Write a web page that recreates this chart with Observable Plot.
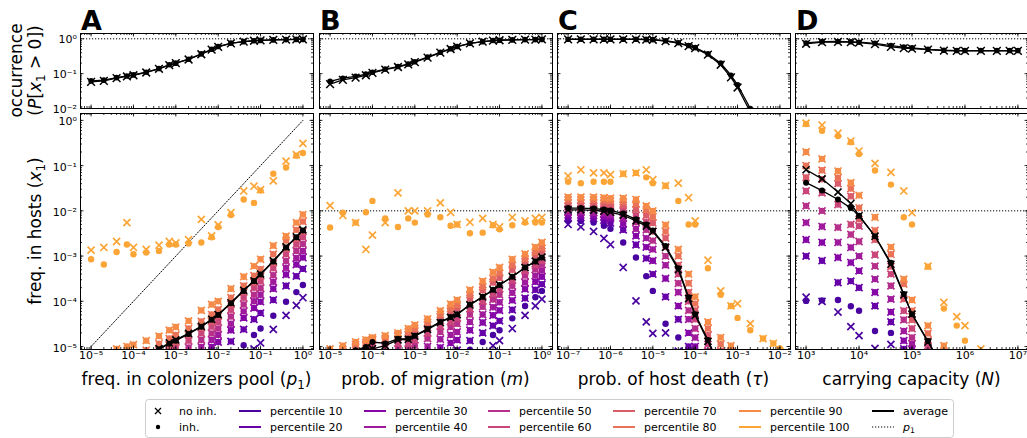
<!DOCTYPE html>
<html>
<head>
<meta charset="utf-8">
<script src="https://cdn.jsdelivr.net/npm/d3@7"></script>
<script src="https://cdn.jsdelivr.net/npm/@observablehq/plot@0.6"></script>
<style>
  html,body{margin:0;padding:0;background:#fff;}
  #fig{position:relative;width:1027px;height:438px;overflow:hidden;font-family:"DejaVu Sans",sans-serif;}
  .pl{position:absolute;}
  .pl svg{overflow:visible;max-width:none !important;}
  #over{position:absolute;left:0;top:0;pointer-events:none;}
</style>
</head>
<body>
<div id="fig"></div>
<script>
const _ = null;

// ---------- x values ----------
const pool      = [1e-5,2e-5,4e-5,7e-5,1e-4,2e-4,4e-4,7e-4,1e-3,2e-3,4e-3,7e-3,1e-2,2e-2,4e-2,7e-2,0.1,0.2,0.4,0.7,1];
const migration = [1e-5,2e-5,4e-5,7e-5,1e-4,2e-4,4e-4,7e-4,1e-3,2e-3,4e-3,7e-3,1e-2,2e-2,4e-2,7e-2,0.1,0.2,0.4,0.7,1];
const death     = [1e-7,2e-7,4e-7,7e-7,1e-6,2e-6,4e-6,7e-6,1e-5,2e-5,4e-5,7e-5,1e-4,2e-4,4e-4,7e-4,1e-3,2e-3,4e-3,7e-3,1e-2];
const capacity  = [1e3,2e3,4e3,7e3,1e4,2e4,4e4,7e4,1e5,2e5,4e5,7e5,1e6,2e6,4e6,7e6,1e7];
const p1Default = 0.01;
const percentiles = [10,20,30,40,50,60,70,80,90,100];

// ---------- tick values ----------
const xTicksA = [1e-5,1e-4,1e-3,1e-2,1e-1,1];
const xTicksB = [1e-5,1e-4,1e-3,1e-2,1e-1,1];
const xTicksC = [1e-7,1e-6,1e-5,1e-4,1e-3,1e-2];
const xTicksD = [1e3,1e4,1e5,1e6,1e7];
const yTicksOcc = [1e-2,1e-1,1];
const yTicksFreq = [1e-5,1e-4,1e-3,1e-2,1e-1,1];

// ---------- panel A: freq. in colonizers pool ----------
const occA_inh   = [0.062,0.065,0.077,0.086,0.092,0.11,0.14,0.18,0.2,0.26,0.37,0.5,0.6,0.75,0.83,0.88,0.9,0.93,0.95,0.96,0.96];
const occA_noinh = [0.058,0.062,0.074,0.083,0.09,0.108,0.138,0.175,0.2,0.255,0.36,0.49,0.59,0.74,0.83,0.88,0.9,0.93,0.95,0.96,0.96];
const avgA_inh   = [2.0e-6,2.5e-6,3.2e-6,4.0e-6,4.5e-6,6.3e-6,8.7e-6,1.15e-5,1.35e-5,1.9e-5,2.75e-5,3.9e-5,5.0e-5,9.1e-5,1.7e-4,2.8e-4,3.9e-4,7.6e-4,1.55e-3,2.6e-3,3.7e-3];
const avgA_noinh = [2.1e-6,2.6e-6,3.3e-6,4.1e-6,4.7e-6,6.5e-6,9.0e-6,1.2e-5,1.4e-5,1.95e-5,2.8e-5,4.0e-5,5.1e-5,9.3e-5,1.75e-4,2.85e-4,4.0e-4,7.8e-4,1.6e-3,2.65e-3,3.8e-3];
const A_p100_noinh = [1.35e-3,1.55e-3,2.1e-3,5.5e-3,1.55e-3,1.4e-3,1.74e-3,2.1e-3,1.95e-3,2.3e-3,6.5e-3,2.8e-3,4.9e-3,9.1e-3,2.75e-2,3.5e-2,2.95e-2,4.6e-2,0.126,0.174,0.31];
const A_p100_inh   = [8.5e-4,6.5e-4,1.23e-3,1.8e-3,1.1e-3,1.2e-3,1.3e-3,1.8e-3,1.8e-3,1.9e-3,2.0e-3,2.6e-3,4.4e-3,8.1e-3,1.78e-2,1.5e-2,2.8e-2,6.6e-2,9.1e-2,0.166,0.19];
const A_p90 = [_,7.1e-6,8.9e-6,1.0e-5,1.1e-5,1.35e-5,1.7e-5,2.3e-5,2.7e-5,3.7e-5,6.3e-5,8.5e-5,1.0e-4,1.9e-4,3.5e-4,6.0e-4,8.5e-4,1.7e-3,2.75e-3,5.5e-3,8.3e-3];
const A_p80 = [_,_,_,_,_,8.3e-6,1.15e-5,1.5e-5,1.8e-5,2.5e-5,3.6e-5,5.1e-5,6.6e-5,1.2e-4,2.2e-4,3.7e-4,5.1e-4,1.1e-3,2.2e-3,3.8e-3,5.8e-3];
const A_p70 = [_,_,_,_,_,_,8.1e-6,1.07e-5,1.26e-5,1.8e-5,2.6e-5,3.6e-5,4.7e-5,8.5e-5,1.6e-4,2.6e-4,3.6e-4,7.1e-4,1.45e-3,2.4e-3,3.5e-3];
const A_p60 = [_,_,_,_,_,_,_,8.1e-6,9.5e-6,1.35e-5,1.95e-5,2.75e-5,3.5e-5,6.5e-5,1.2e-4,2.0e-4,2.75e-4,5.4e-4,1.1e-3,1.8e-3,2.6e-3];
const A_p50 = [_,_,_,_,_,_,_,_,_,9.5e-6,1.4e-5,1.95e-5,2.5e-5,4.6e-5,8.5e-5,1.4e-4,1.95e-4,3.8e-4,7.8e-4,1.3e-3,1.85e-3];
const A_p40 = [_,_,_,_,_,_,_,_,_,_,9.8e-6,1.4e-5,1.8e-5,3.2e-5,6.0e-5,1.0e-4,1.4e-4,2.7e-4,5.5e-4,9.1e-4,1.3e-3];
const A_p30 = [_,_,_,_,_,_,_,_,_,_,_,9.8e-6,1.26e-5,2.3e-5,4.3e-5,7.1e-5,9.8e-5,1.9e-4,3.9e-4,6.5e-4,9.3e-4];
const A_p20 = [_,_,_,_,_,_,_,_,_,_,_,_,7.1e-6,1.3e-5,2.4e-5,4.0e-5,5.5e-5,1.07e-4,2.2e-4,3.6e-4,5.2e-4];
const A_p10_inh   = [_,_,_,_,_,_,_,_,_,_,_,_,_,_,1.07e-5,1.8e-5,2.5e-5,4.8e-5,9.8e-5,1.6e-4,2.3e-4];
const A_p10_noinh = [_,_,_,_,_,_,_,_,_,_,_,_,_,_,_,8.9e-6,1.2e-5,2.4e-5,4.9e-5,8.1e-5,1.2e-4];

// ---------- panel B: prob. of migration ----------
const occB_inh   = [0.06,0.074,0.084,0.097,0.11,0.135,0.16,0.19,0.22,0.3,0.41,0.52,0.6,0.74,0.83,0.89,0.91,0.93,0.95,0.95,0.96];
const occB_noinh = [0.05,0.066,0.077,0.09,0.105,0.13,0.155,0.185,0.215,0.29,0.4,0.51,0.6,0.74,0.83,0.89,0.91,0.93,0.95,0.95,0.96];
const avgB_inh   = [5.0e-6,6.3e-6,8.3e-6,9.8e-6,1.26e-5,1.17e-5,1.48e-5,1.48e-5,1.74e-5,2.45e-5,3.5e-5,4.5e-5,5.2e-5,8.5e-5,1.26e-4,1.8e-4,2.3e-4,3.5e-4,5.6e-4,7.6e-4,9.3e-4];
const avgB_noinh = [4.0e-6,5.0e-6,6.3e-6,7.9e-6,8.9e-6,1.05e-5,1.41e-5,1.45e-5,1.7e-5,2.4e-5,3.4e-5,4.4e-5,5.1e-5,8.3e-5,1.25e-4,1.8e-4,2.3e-4,3.5e-4,5.6e-4,7.7e-4,9.5e-4];
const B_p100_noinh = [1.3e-2,7.9e-3,5.5e-3,1.4e-3,2.9e-3,5.5e-3,2.5e-2,1.0e-2,1.0e-2,1.0e-2,1.5e-2,9.3e-3,5.0e-3,5.6e-3,6.8e-3,5.0e-3,4.4e-3,7.2e-3,6.0e-3,6.8e-3,7.2e-3];
const B_p100_inh   = [4.3e-3,9.1e-3,5.5e-3,9.3e-3,1.66e-2,6.8e-3,4.4e-3,6.8e-3,5.5e-3,8.3e-3,7.2e-3,4.7e-3,5.0e-3,3.2e-3,3.3e-3,4.8e-3,3.9e-3,4.8e-3,5.5e-3,5.5e-3,5.5e-3];
const B_p90 = [8.9e-6,1.05e-5,1.26e-5,1.41e-5,1.58e-5,1.74e-5,2.0e-5,2.5e-5,3.0e-5,4.1e-5,6.2e-5,8.7e-5,1.07e-4,1.78e-4,2.8e-4,4.4e-4,5.6e-4,8.5e-4,1.12e-3,1.58e-3,2.0e-3];
const B_p80 = [7.2e-6,8.7e-6,1.1e-5,1.23e-5,1.45e-5,1.5e-5,1.8e-5,2.1e-5,2.5e-5,3.4e-5,5.1e-5,6.9e-5,8.3e-5,1.4e-4,2.1e-4,3.2e-4,4.2e-4,6.3e-4,8.7e-4,1.23e-3,1.5e-3];
const B_p70 = [6.3e-6,7.8e-6,9.8e-6,1.12e-5,1.4e-5,1.4e-5,1.7e-5,1.8e-5,2.2e-5,3.0e-5,4.5e-5,5.9e-5,6.9e-5,1.15e-4,1.75e-4,2.6e-4,3.3e-4,5.0e-4,7.4e-4,1.02e-3,1.26e-3];
const B_p60 = [_,_,_,7.9e-6,1.02e-5,9.3e-6,1.17e-5,1.17e-5,1.4e-5,1.95e-5,2.8e-5,3.5e-5,4.2e-5,6.8e-5,1.0e-4,1.45e-4,1.86e-4,2.9e-4,4.7e-4,6.3e-4,7.9e-4];
const B_p50 = [_,_,_,_,7.6e-6,7.1e-6,8.9e-6,8.9e-6,1.05e-5,1.5e-5,2.1e-5,2.7e-5,3.2e-5,5.1e-5,7.6e-5,1.1e-4,1.4e-4,2.2e-4,3.7e-4,5.1e-4,6.5e-4];
const B_p40 = [_,_,_,_,_,_,_,_,7.1e-6,1.0e-5,1.45e-5,1.8e-5,2.1e-5,3.5e-5,5.1e-5,7.4e-5,9.5e-5,1.55e-4,2.6e-4,3.7e-4,4.8e-4];
const B_p30 = [_,_,_,_,_,_,_,_,_,_,9.5e-6,1.2e-5,1.4e-5,2.3e-5,3.4e-5,4.9e-5,6.3e-5,1.05e-4,1.86e-4,2.7e-4,3.5e-4];
const B_p20 = [_,_,_,_,_,_,_,_,_,_,_,7.1e-6,8.3e-6,1.35e-5,2.0e-5,2.9e-5,3.7e-5,6.5e-5,1.17e-4,1.8e-4,2.4e-4];
const B_p10_inh   = [_,_,_,_,_,_,_,_,_,_,_,_,_,8.5e-6,1.26e-5,1.8e-5,2.3e-5,4.2e-5,7.9e-5,1.23e-4,1.7e-4];
const B_p10_noinh = [_,_,_,_,_,_,_,_,_,_,_,_,_,_,7.2e-6,1.05e-5,1.35e-5,2.5e-5,4.9e-5,7.9e-5,1.12e-4];

// ---------- panel C: prob. of host death ----------
const occC_inh   = [0.97,0.97,0.97,0.97,0.97,0.97,0.97,0.96,0.95,0.88,0.77,0.64,0.56,0.37,0.2,0.09,0.048,0.01,0.0012,1.5e-4,3e-5];
const occC_noinh = [0.96,0.96,0.96,0.96,0.96,0.96,0.96,0.95,0.94,0.86,0.75,0.62,0.54,0.35,0.18,0.078,0.04,0.008,9e-4,1e-4,2e-5];
const avgC_inh   = [1.15e-2,1.15e-2,1.12e-2,1.07e-2,1.02e-2,8.7e-3,6.5e-3,5.0e-3,3.7e-3,1.66e-3,5.4e-4,1.23e-4,5.2e-5,1.4e-5,3.2e-6,1.0e-6,_,_,_,_,_];
const avgC_noinh = [1.05e-2,1.05e-2,1.02e-2,9.8e-3,9.3e-3,8.0e-3,6.0e-3,4.6e-3,3.5e-3,1.55e-3,5.0e-4,1.15e-4,4.9e-5,1.3e-5,3.0e-6,9.0e-7,_,_,_,_,_];
const C_p100_noinh = [5.9e-2,8.1e-2,6.9e-2,6.9e-2,6.3e-2,6.6e-2,6.9e-2,8.1e-2,4.9e-2,3.6e-2,4.1e-2,1.95e-2,6.0e-3,8.1e-4,1.7e-4,7.9e-5,8.9e-5,3.2e-5,1.5e-5,1.17e-5,7.9e-6];
const C_p100_inh   = [4.4e-2,4.1e-2,4.4e-2,4.4e-2,4.4e-2,6.6e-2,6.9e-2,5.5e-2,4.1e-2,3.6e-2,1.66e-2,5.0e-3,5.0e-3,5.4e-4,1.4e-4,7.9e-5,4.3e-5,2.3e-5,1.5e-5,1.17e-5,9.1e-6];
const C_p90 = [2.0e-2,2.0e-2,2.0e-2,1.95e-2,1.9e-2,1.9e-2,1.78e-2,1.29e-2,1.0e-2,4.9e-3,1.41e-3,4.0e-4,1.26e-4,3.5e-5,1.58e-5,1.05e-5,_,_,_,_,_];
const C_p80 = [1.74e-2,1.74e-2,1.74e-2,1.7e-2,1.66e-2,1.58e-2,1.41e-2,1.05e-2,7.4e-3,3.5e-3,1.0e-3,2.5e-4,8.9e-5,2.5e-5,1.12e-5,7.9e-6,_,_,_,_,_];
const C_p70 = [1.51e-2,1.51e-2,1.51e-2,1.48e-2,1.41e-2,1.32e-2,1.07e-2,7.9e-3,5.4e-3,2.5e-3,6.3e-4,1.58e-4,6.3e-5,1.78e-5,7.9e-6,_,_,_,_,_,_];
const C_p60 = [1.26e-2,1.26e-2,1.26e-2,1.23e-2,1.17e-2,1.05e-2,7.9e-3,5.6e-3,3.5e-3,1.58e-3,4.0e-4,1.0e-4,4.0e-5,1.12e-5,_,_,_,_,_,_,_];
const C_p50 = [1.05e-2,1.05e-2,1.05e-2,1.0e-2,9.5e-3,8.3e-3,5.6e-3,3.8e-3,2.2e-3,1.0e-3,2.5e-4,6.3e-5,2.5e-5,7.9e-6,_,_,_,_,_,_,_];
const C_p40 = [9.3e-3,9.3e-3,9.1e-3,8.7e-3,8.1e-3,6.8e-3,4.0e-3,2.5e-3,1.41e-3,6.3e-4,1.58e-4,4.0e-5,1.58e-5,_,_,_,_,_,_,_,_];
const C_p30 = [8.1e-3,8.1e-3,7.9e-3,7.4e-3,6.8e-3,5.2e-3,2.8e-3,1.58e-3,7.9e-4,3.2e-4,7.9e-5,2.0e-5,1.0e-5,_,_,_,_,_,_,_,_];
const C_p20 = [7.1e-3,7.1e-3,6.8e-3,6.2e-3,5.4e-3,3.8e-3,1.78e-3,8.9e-4,4.0e-4,1.26e-4,4.0e-5,1.0e-5,_,_,_,_,_,_,_,_,_];
const C_p10_inh   = [6.3e-3,6.0e-3,5.5e-3,4.7e-3,4.0e-3,2.0e-3,9.3e-4,3.6e-4,1.7e-4,3.2e-5,1.58e-5,_,_,_,_,_,_,_,_,_,_];
const C_p10_noinh = [5.0e-3,4.4e-3,3.5e-3,2.45e-3,1.8e-3,5.6e-4,1.02e-4,3.5e-5,1.95e-5,2.0e-5,7.9e-6,_,_,_,_,_,_,_,_,_,_];

// ---------- panel D: carrying capacity ----------
const occD_inh   = [0.76,0.83,0.84,0.82,0.8,0.74,0.64,0.58,0.55,0.5,0.47,0.46,0.46,0.46,0.46,0.46,0.46];
const occD_noinh = [0.72,0.8,0.82,0.8,0.78,0.7,0.59,0.54,0.52,0.49,0.46,0.45,0.45,0.45,0.45,0.45,0.45];
const avgD_inh   = [4.2e-2,2.8e-2,1.78e-2,1.15e-2,7.8e-3,2.75e-3,7.1e-4,1.45e-4,5.2e-5,1.32e-5,3.2e-6,_,_,_,_,_,_];
const avgD_noinh = [8.1e-2,5.1e-2,2.6e-2,1.45e-2,7.8e-3,2.75e-3,6.6e-4,1.38e-4,5.2e-5,1.26e-5,3.2e-6,_,_,_,_,_,_];
const D_p100_noinh = [0.87,0.79,0.52,0.35,0.21,0.112,7.1e-2,2.75e-2,9.1e-3,6.0e-4,9.5e-5,4.6e-5,2.9e-5,8.9e-6,_,_,_];
const D_p100_inh   = [0.83,0.59,0.45,0.33,0.18,7.8e-2,3.8e-2,7.2e-3,5.0e-3,5.8e-4,6.9e-5,2.9e-5,1.35e-5,7.9e-6,_,_,_];
const D_p90 = [0.2,0.141,7.6e-2,4.2e-2,2.2e-2,7.2e-3,1.58e-3,3.1e-4,1.07e-4,2.9e-5,1.05e-5,_,_,_,_,_,_];
const D_p80 = [0.1,7.9e-2,5.4e-2,3.1e-2,1.17e-2,3.7e-3,1.1e-3,2.4e-4,6.2e-5,1.95e-5,7.9e-6,_,_,_,_,_,_];
const D_p70 = [5.5e-2,5.0e-2,4.0e-2,2.1e-2,6.5e-3,2.3e-3,5.9e-4,1.12e-4,3.9e-5,1.35e-5,_,_,_,_,_,_,_];
const D_p60 = [2.75e-2,2.5e-2,1.38e-2,5.0e-3,4.6e-3,1.07e-3,4.0e-4,6.2e-5,2.5e-5,1.05e-5,_,_,_,_,_,_,_];
const D_p50 = [1.29e-2,1.0e-2,4.3e-3,3.0e-3,2.1e-3,6.0e-4,2.2e-4,3.9e-5,1.58e-5,8.9e-6,_,_,_,_,_,_,_];
const D_p40 = [5.5e-3,4.5e-3,2.0e-3,1.55e-3,1.0e-3,3.1e-4,1.12e-4,2.2e-5,1.15e-5,_,_,_,_,_,_,_,_];
const D_p30 = [2.3e-3,2.0e-3,9.3e-4,7.2e-4,4.7e-4,1.58e-4,5.8e-5,1.35e-5,8.9e-6,_,_,_,_,_,_,_,_];
const D_p20 = [1.0e-3,7.9e-4,2.6e-4,2.8e-4,2.0e-4,7.9e-5,3.5e-5,8.9e-6,_,_,_,_,_,_,_,_,_];
const D_p10_inh   = [1.02e-4,1.05e-4,1.07e-4,7.8e-5,6.2e-5,2.2e-5,2.0e-5,_,_,_,_,_,_,_,_,_,_];
const D_p10_noinh = [1.23e-4,1.0e-4,5.8e-5,2.75e-5,1.74e-5,9.1e-6,1.12e-5,_,_,_,_,_,_,_,_,_,_];

// ---------- layout / style ----------
const COLORS = percentiles.map((p, i) => d3.interpolatePlasma(0.12 + i * 0.075));
const FONT = "DejaVu Sans";
const TICKFONT = 11;
const W = 233, M = 30;
const TOP = {t: 33, h: 75}, BOT = {t: 113, h: 236};
const OCC_DOMAIN = [0.01, 1.42], FREQ_DOMAIN = [8.6e-6, 1.42];

const panels = [
  {key:"A", left:80, xs:pool, xDomain:[10**-5.25,10**0.25], xTicks:xTicksA, diag:true,
   occ:[occA_noinh, occA_inh], avg:[avgA_noinh, avgA_inh],
   noinh:[A_p10_noinh,A_p20,A_p30,A_p40,A_p50,A_p60,A_p70,A_p80,A_p90,A_p100_noinh],
   inh:[A_p10_inh,A_p20,A_p30,A_p40,A_p50,A_p60,A_p70,A_p80,A_p90,A_p100_inh]},
  {key:"B", left:319, xs:migration, xDomain:[10**-5.25,10**0.25], xTicks:xTicksB,
   occ:[occB_noinh, occB_inh], avg:[avgB_noinh, avgB_inh],
   noinh:[B_p10_noinh,B_p20,B_p30,B_p40,B_p50,B_p60,B_p70,B_p80,B_p90,B_p100_noinh],
   inh:[B_p10_inh,B_p20,B_p30,B_p40,B_p50,B_p60,B_p70,B_p80,B_p90,B_p100_inh]},
  {key:"C", left:557, xs:death, xDomain:[10**-7.25,10**-1.75], xTicks:xTicksC,
   occ:[occC_noinh, occC_inh], avg:[avgC_noinh, avgC_inh],
   noinh:[C_p10_noinh,C_p20,C_p30,C_p40,C_p50,C_p60,C_p70,C_p80,C_p90,C_p100_noinh],
   inh:[C_p10_inh,C_p20,C_p30,C_p40,C_p50,C_p60,C_p70,C_p80,C_p90,C_p100_inh]},
  {key:"D", left:795, xs:capacity, xDomain:[10**2.8,10**7.2], xTicks:xTicksD,
   occ:[occD_noinh, occD_inh], avg:[avgD_noinh, avgD_inh],
   noinh:[D_p10_noinh,D_p20,D_p30,D_p40,D_p50,D_p60,D_p70,D_p80,D_p90,D_p100_noinh],
   inh:[D_p10_inh,D_p20,D_p30,D_p40,D_p50,D_p60,D_p70,D_p80,D_p90,D_p100_inh]}
];

const SUP = {"-":"⁻","0":"⁰","1":"¹","2":"²","3":"³","4":"⁴","5":"⁵","6":"⁶","7":"⁷","8":"⁸","9":"⁹"};
const fmt = d => "10" + String(Math.round(Math.log10(d))).split("").map(c => SUP[c]).join("");
const rows = (xs, ys) => xs.map((x, i) => ({x, y: ys[i]})).filter(d => d.y != null);

function minorTicks(dom) {
  const out = [];
  const lo = Math.floor(Math.log10(dom[0])), hi = Math.ceil(Math.log10(dom[1]));
  for (let e = lo; e <= hi; e++) for (let k = 1; k < 10; k++) {
    const v = k * 10 ** e;
    if (v >= dom[0] && v <= dom[1]) out.push(v);
  }
  return out;
}

function tickMarks(xDom, yDom, xMaj, yMaj, w, h) {
  const st = {stroke:"#000", strokeWidth:0.8};
  const xMin = minorTicks(xDom), yMin = minorTicks(yDom);
  const xM = xMaj.filter(v => v >= xDom[0] && v <= xDom[1]);
  const yM = yMaj.filter(v => v >= yDom[0] && v <= yDom[1]);
  const L = 3.5, S = 2;
  return [
    Plot.tickX(xMin, {x:d=>d, insetTop:h-S, ...st}),
    Plot.tickX(xMin, {x:d=>d, insetBottom:h-S, ...st}),
    Plot.tickX(xM, {x:d=>d, insetTop:h-L, ...st}),
    Plot.tickX(xM, {x:d=>d, insetBottom:h-L, ...st}),
    Plot.tickY(yMin, {y:d=>d, insetRight:w-S, ...st}),
    Plot.tickY(yMin, {y:d=>d, insetLeft:w-S, ...st}),
    Plot.tickY(yM, {y:d=>d, insetRight:w-L, ...st}),
    Plot.tickY(yM, {y:d=>d, insetLeft:w-L, ...st})
  ];
}

const fig = document.getElementById("fig");
function place(svg, left, top, h) {
  const d = document.createElement("div");
  d.className = "pl";
  d.style.left = (left - M) + "px";
  d.style.top = (top - M) + "px";
  d.style.width = (W + 2 * M) + "px";
  d.style.height = (h + 2 * M) + "px";
  d.appendChild(svg);
  fig.appendChild(d);
}
function makePlot(xDomain, yDomain, h, marks) {
  return Plot.plot({
    width: W + 2 * M, height: h + 2 * M, margin: M,
    x: {type:"log", domain:xDomain, axis:null},
    y: {type:"log", domain:yDomain, axis:null},
    style: {fontFamily: FONT, fontSize: TICKFONT + "px", background: "transparent", overflow: "visible", maxWidth: "none"},
    marks
  });
}

panels.forEach((P, pi) => {
  // ---- top: occurrence ----
  const topMarks = [
    Plot.ruleY([1], {stroke:"#000", strokeWidth:1, strokeDasharray:"1.2,1.8"}),
    Plot.line(rows(P.xs, P.occ[1]), {x:"x", y:"y", stroke:"#000", strokeWidth:1.3, clip:true}),
    Plot.line(rows(P.xs, P.occ[0]), {x:"x", y:"y", stroke:"#000", strokeWidth:1.3, clip:true}),
    Plot.dot(rows(P.xs, P.occ[1]), {x:"x", y:"y", r:2.8, fill:"#000", stroke:"none", clip:true}),
    Plot.dot(rows(P.xs, P.occ[0]), {x:"x", y:"y", symbol:"times", r:3.6, stroke:"#000", strokeWidth:1.5, clip:true}),
    ...tickMarks(P.xDomain, OCC_DOMAIN, P.xTicks, yTicksOcc, W, TOP.h),
    Plot.frame({stroke:"#000", strokeWidth:1})
  ];
  if (pi === 0) topMarks.push(Plot.text(yTicksOcc, {y:d=>d, text:fmt, frameAnchor:"left", dx:-3.5, dy:0.5, textAnchor:"end", fontSize:TICKFONT, fill:"#000"}));
  place(makePlot(P.xDomain, OCC_DOMAIN, TOP.h, topMarks), P.left, TOP.t, TOP.h);

  // ---- bottom: frequency in hosts ----
  const marks = [];
  if (P.diag) marks.push(Plot.line(P.xs.map(x => ({x, y:x})), {x:"x", y:"y", stroke:"#000", strokeWidth:1, strokeDasharray:"1.2,1.8", clip:true}));
  else marks.push(Plot.ruleY([p1Default], {stroke:"#000", strokeWidth:1, strokeDasharray:"1.2,1.8"}));
  percentiles.forEach((p, k) => {
    marks.push(Plot.dot(rows(P.xs, P.noinh[k]), {x:"x", y:"y", symbol:"times", r:3.3, stroke:COLORS[k], strokeWidth:1.7, clip:true}));
    marks.push(Plot.dot(rows(P.xs, P.inh[k]), {x:"x", y:"y", r:3.2, fill:COLORS[k], stroke:"none", clip:true}));
  });
  marks.push(
    Plot.line(rows(P.xs, P.avg[1]), {x:"x", y:"y", stroke:"#000", strokeWidth:1.3, clip:true}),
    Plot.line(rows(P.xs, P.avg[0]), {x:"x", y:"y", stroke:"#000", strokeWidth:1.3, clip:true}),
    Plot.dot(rows(P.xs, P.avg[1]), {x:"x", y:"y", r:3, fill:"#000", stroke:"none", clip:true}),
    Plot.dot(rows(P.xs, P.avg[0]), {x:"x", y:"y", symbol:"times", r:3.3, stroke:"#000", strokeWidth:1.6, clip:true}),
    ...tickMarks(P.xDomain, FREQ_DOMAIN, P.xTicks, yTicksFreq, W, BOT.h),
    Plot.frame({stroke:"#000", strokeWidth:1}),
    Plot.text(P.xTicks.filter(v => v >= P.xDomain[0] && v <= P.xDomain[1]), {x:d=>d, text:fmt, frameAnchor:"bottom", dy:9.5, fontSize:TICKFONT, fill:"#000"})
  );
  if (pi === 0) marks.push(Plot.text(yTicksFreq, {y:d=>d, text:fmt, frameAnchor:"left", dx:-3.5, dy:1.5, textAnchor:"end", fontSize:TICKFONT, fill:"#000"}));
  place(makePlot(P.xDomain, FREQ_DOMAIN, BOT.h, marks), P.left, BOT.t, BOT.h);
});

// ---------- overlay texts (panel letters, axis titles, legend) ----------
const over = d3.select(fig).append("svg").attr("id","over").attr("width",1027).attr("height",438)
  .style("font-family", FONT);

function rich(x, y, parts, {size=17, anchor="middle", rotate=false} = {}) {
  const t = over.append("text").attr("font-size", size).attr("text-anchor", anchor).attr("fill", "#000");
  if (rotate) t.attr("transform", `translate(${x},${y}) rotate(-90)`); else t.attr("x", x).attr("y", y);
  let shift = 0;
  parts.forEach(p => {
    const s = t.append("tspan").text(p.t);
    if (p.i) s.attr("font-style", "italic");
    const want = p.sub ? size * 0.22 : 0;
    if (want !== shift) { s.attr("dy", want - shift); shift = want; }
    if (p.sub) s.attr("font-size", size * 0.7);
  });
  return t;
}

// panel letters
panels.forEach(P => {
  over.append("text").attr("x", P.left + 1).attr("y", 30).attr("font-size", 27)
    .attr("font-weight", "bold").text(P.key);
});

// y-axis titles
rich(22, 70.5, [{t:"occurrence"}], {rotate:true});
rich(41, 70.5, [{t:"("},{t:"P",i:1},{t:"["},{t:"x",i:1},{t:"1",sub:1},{t:" > 0])"}], {rotate:true});
rich(41, 231, [{t:"freq. in hosts ("},{t:"x",i:1},{t:"1",sub:1},{t:")"}], {rotate:true});

// x-axis titles
const xTitles = [
  [{t:"freq. in colonizers pool ("},{t:"p",i:1},{t:"1",sub:1},{t:")"}],
  [{t:"prob. of migration ("},{t:"m",i:1},{t:")"}],
  [{t:"prob. of host death ("},{t:"τ",i:1},{t:")"}],
  [{t:"carrying capacity ("},{t:"N",i:1},{t:")"}]
];
panels.forEach((P, i) => rich(P.left + W / 2, 385, xTitles[i]));

// legend
const lg = over.append("g").attr("transform", "translate(145,399)");
lg.append("rect").attr("x",0.5).attr("y",0.5).attr("width",808).attr("height",38).attr("rx",3)
  .attr("fill","#fff").attr("stroke","#cccccc").attr("stroke-width",1);
const R1 = 12, R2 = 28;
lg.append("path").attr("d", `M${13-3},${R1-3}L${13+3},${R1+3}M${13-3},${R1+3}L${13+3},${R1-3}`).attr("stroke","#000").attr("stroke-width",1.3);
lg.append("circle").attr("cx",13).attr("cy",R2).attr("r",2.2).attr("fill","#000");
lg.append("text").attr("x",34).attr("y",R1+4).attr("font-size",11).text("no inh.");
lg.append("text").attr("x",34).attr("y",R2+4).attr("font-size",11).text("inh.");
const colX = [94, 219, 343, 468, 594];
percentiles.forEach((p, k) => {
  const col = Math.floor(k / 2), row = k % 2 ? R2 : R1;
  const x0 = colX[col];
  lg.append("line").attr("x1",x0).attr("x2",x0+22).attr("y1",row).attr("y2",row).attr("stroke",COLORS[k]).attr("stroke-width",2);
  lg.append("text").attr("x",x0+31).attr("y",row+4).attr("font-size",11).text("percentile " + p);
});
lg.append("line").attr("x1",727).attr("x2",749).attr("y1",R1).attr("y2",R1).attr("stroke","#000").attr("stroke-width",2);
lg.append("text").attr("x",758).attr("y",R1+4).attr("font-size",11).text("average");
lg.append("line").attr("x1",727).attr("x2",749).attr("y1",R2).attr("y2",R2).attr("stroke","#000").attr("stroke-width",1.2).attr("stroke-dasharray","1.2,1.8");
const p1t = lg.append("text").attr("x",758).attr("y",R2+4).attr("font-size",11);
p1t.append("tspan").attr("font-style","italic").text("p");
p1t.append("tspan").attr("font-size",7.7).attr("dy",2.4).text("1");
</script>
</body>
</html>
